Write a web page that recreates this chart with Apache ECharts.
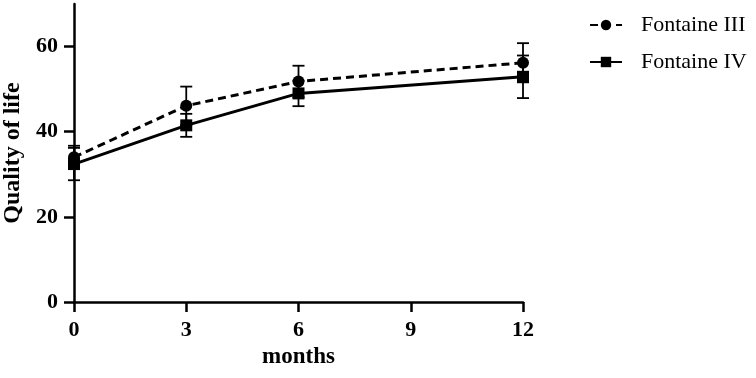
<!DOCTYPE html>
<html>
<head>
<meta charset="utf-8">
<script src="https://cdn.jsdelivr.net/npm/echarts@6/dist/echarts.min.js"></script>
<style>
  html, body { margin: 0; padding: 0; background: #fff; }
  #chart { width: 756px; height: 378px; }
</style>
</head>
<body>
<div id="chart"></div>
<script>
const months = [0, 3, 6, 12]
const yTicks = [0, 20, 40, 60]
const xTicks = [0, 3, 6, 9, 12]

const fontaine3Mean = [34.0, 46.1, 51.8, 56.2]
const fontaine3Sd = [2.7, 4.5, 3.7, 4.6]
const fontaine4Mean = [32.4, 41.5, 49.0, 52.9]
const fontaine4Sd = [3.8, 2.7, 3.0, 5.0]

const serif = 'Liberation Serif'

const chart = echarts.init(document.getElementById('chart'))

// error bars as custom series
const errorSeries = (mean, sd) => ({
  type: 'custom',
  silent: true,
  z: 3,
  data: months.map((m, i) => [m, mean[i] - sd[i], mean[i] + sd[i]]),
  renderItem: (params, api) => {
    const lo = api.coord([api.value(0), api.value(1)])
    const hi = api.coord([api.value(0), api.value(2)])
    const half = 6
    const style = { stroke: '#000', lineWidth: 1.8 }
    return {
      type: 'group',
      children: [
        { type: 'line', shape: { x1: lo[0], y1: lo[1], x2: hi[0], y2: hi[1] }, style },
        { type: 'line', shape: { x1: lo[0] - half, y1: lo[1], x2: lo[0] + half, y2: lo[1] }, style },
        { type: 'line', shape: { x1: hi[0] - half, y1: hi[1], x2: hi[0] + half, y2: hi[1] }, style },
      ],
    }
  },
})

const option = {
  animation: false,
  grid: { left: 74, right: 233, top: 4, bottom: 76, outerBoundsMode: 'none', containLabel: false },
  legend: {
    orient: 'vertical',
    left: 584,
    top: 9,
    itemWidth: 32,
    itemHeight: 13,
    itemGap: 15,
    data: ['Fontaine III', 'Fontaine IV'],
    textStyle: { fontFamily: serif, fontSize: 22, color: '#000', padding: [0, 0, 0, 14] },
  },
  xAxis: {
    type: 'value',
    min: 0,
    max: 12,
    interval: 3,
    name: 'months',
    nameLocation: 'middle',
    nameGap: 41,
    nameTextStyle: { fontFamily: serif, fontSize: 23, fontWeight: 'bold', color: '#000' },
    axisLine: { show: true, lineStyle: { color: '#000', width: 2.5 } },
    axisTick: { show: true, length: 10, lineStyle: { color: '#000', width: 2.5 } },
    axisLabel: { margin: 17, fontFamily: serif, fontSize: 22, fontWeight: 'bold', color: '#000' },
    splitLine: { show: false },
  },
  yAxis: {
    type: 'value',
    min: 0,
    max: 70,
    interval: 20,
    name: 'Quality of life',
    nameLocation: 'middle',
    nameGap: 48,
    nameTextStyle: { fontFamily: serif, fontSize: 24, fontWeight: 'bold', color: '#000' },
    axisLine: { show: true, lineStyle: { color: '#000', width: 2.5 } },
    axisTick: { show: true, length: 10, customValues: yTicks, lineStyle: { color: '#000', width: 2.5 } },
    axisLabel: { margin: 16, customValues: yTicks, fontFamily: serif, fontSize: 22, fontWeight: 'bold', color: '#000' },
    splitLine: { show: false },
  },
  series: [
    errorSeries(fontaine3Mean, fontaine3Sd),
    errorSeries(fontaine4Mean, fontaine4Sd),
    {
      name: 'Fontaine III',
      type: 'line',
      z: 4,
      data: months.map((m, i) => [m, fontaine3Mean[i]]),
      symbol: 'circle',
      symbolSize: 12,
      itemStyle: { color: '#000' },
      lineStyle: { color: '#000', width: 3, type: [8, 5] },
    },
    {
      name: 'Fontaine IV',
      type: 'line',
      z: 4,
      data: months.map((m, i) => [m, fontaine4Mean[i]]),
      symbol: 'rect',
      symbolSize: 12,
      itemStyle: { color: '#000' },
      lineStyle: { color: '#000', width: 3 },
    },
  ],
}

chart.setOption(option)
</script>
</body>
</html>
